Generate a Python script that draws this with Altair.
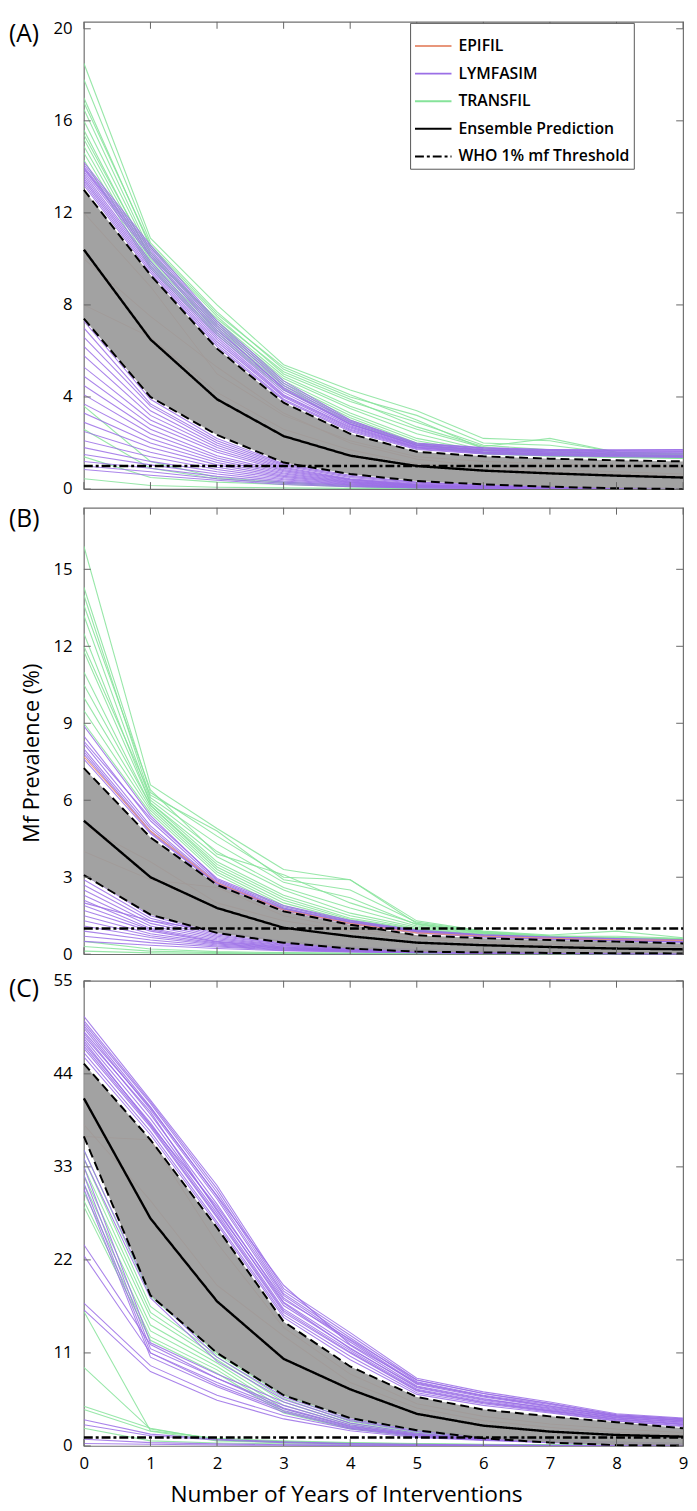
import altair as alt
import pandas as pd

FONT = "Open Sans"
X_YEARS = list(range(10))
XTICKS = list(range(10))
SERIES = ["EPIFIL", "LYMFASIM", "TRANSFIL", "Ensemble Prediction", "WHO 1% mf Threshold"]
SERIES_COLORS = ["#e8967b", "#9b6fe6", "#86e39a", "#000000", "#000000"]
SERIES_DASH = [[1, 0], [1, 0], [1, 0], [1, 0], [9, 3, 3, 3]]
THRESHOLD = 1.0
Y_TITLE = "Mf Prevalence (%)"
X_TITLE = "Number of Years of Interventions"

# ---------------- Panel A ----------------
A_YTICKS = [0, 4, 8, 12, 16, 20]
A_YMAX = 20.3
A_LOWER = [7.4, 4.0, 2.35, 1.15, 0.65, 0.35, 0.2, 0.1, 0.03, 0.0]
A_MEDIAN = [10.4, 6.5, 3.9, 2.3, 1.45, 1.0, 0.8, 0.68, 0.58, 0.5]
A_UPPER = [13.0, 9.3, 6.1, 3.75, 2.4, 1.62, 1.42, 1.32, 1.25, 1.2]
A_EPIFIL = [
    [8.0, 6.6, 4.2, 2.6, 1.7, 1.1, 0.9, 0.75, 0.65, 0.55],
    [10.0, 7.5, 5.3, 3.3, 2.0, 1.3, 1.0, 0.85, 0.75, 0.65],
    [12.0, 8.8, 5.0, 3.2, 2.1, 1.4, 1.2, 1.1, 1.0, 0.95],
]
A_LYMFASIM = [
    [14.2, 10.6, 7.3, 4.7, 3.0, 2.0, 1.8, 1.72, 1.7, 1.72],
    [14.1, 10.5, 7.2, 4.6, 2.95, 1.97, 1.78, 1.7, 1.68, 1.7],
    [14.0, 10.4, 7.1, 4.5, 2.9, 1.95, 1.75, 1.68, 1.65, 1.66],
    [13.95, 10.3, 7.0, 4.35, 2.82, 1.9, 1.72, 1.65, 1.62, 1.63],
    [13.9, 10.2, 6.9, 4.4, 2.85, 1.9, 1.7, 1.62, 1.6, 1.6],
    [13.8, 10.1, 6.8, 4.3, 2.8, 1.88, 1.68, 1.6, 1.57, 1.56],
    [13.7, 9.9, 6.7, 4.2, 2.75, 1.85, 1.65, 1.57, 1.54, 1.52],
    [13.6, 9.8, 6.6, 4.1, 2.7, 1.82, 1.62, 1.54, 1.5, 1.48],
    [13.5, 9.7, 6.5, 4.05, 2.65, 1.8, 1.6, 1.52, 1.48, 1.45],
    [13.4, 9.6, 6.4, 4.0, 2.6, 1.78, 1.58, 1.5, 1.46, 1.42],
    [13.3, 9.5, 6.3, 3.9, 2.55, 1.75, 1.55, 1.48, 1.43, 1.4],
    [13.2, 9.4, 6.2, 3.85, 2.5, 1.72, 1.52, 1.45, 1.4, 1.37],
    [7.3, 3.9, 2.2, 1.1, 0.6, 0.3, 0.18, 0.1, 0.05, 0.02],
    [7.0, 3.7, 2.1, 1.05, 0.55, 0.28, 0.15, 0.08, 0.04, 0.02],
    [6.6, 3.6, 2.0, 1.0, 0.5, 0.25, 0.14, 0.08, 0.04, 0.02],
    [6.2, 3.4, 1.9, 0.95, 0.45, 0.22, 0.12, 0.07, 0.04, 0.02],
    [5.8, 3.2, 1.8, 0.9, 0.42, 0.2, 0.1, 0.06, 0.03, 0.01],
    [5.3, 3.0, 1.7, 0.85, 0.4, 0.18, 0.1, 0.05, 0.03, 0.01],
    [4.9, 2.8, 1.6, 0.8, 0.38, 0.17, 0.09, 0.05, 0.02, 0.01],
    [4.5, 2.6, 1.45, 0.75, 0.35, 0.16, 0.08, 0.04, 0.02, 0.01],
    [4.1, 2.4, 1.35, 0.7, 0.33, 0.15, 0.08, 0.04, 0.02, 0.01],
    [3.7, 2.2, 1.25, 0.65, 0.3, 0.14, 0.07, 0.04, 0.02, 0.01],
    [3.3, 2.0, 1.15, 0.6, 0.28, 0.13, 0.07, 0.03, 0.02, 0.01],
    [2.9, 1.8, 1.05, 0.55, 0.26, 0.12, 0.06, 0.03, 0.01, 0.0],
    [2.5, 1.6, 0.95, 0.5, 0.24, 0.11, 0.06, 0.03, 0.01, 0.0],
    [2.1, 1.4, 0.85, 0.45, 0.22, 0.1, 0.05, 0.03, 0.01, 0.0],
    [1.8, 1.2, 0.75, 0.4, 0.2, 0.09, 0.05, 0.02, 0.01, 0.0],
    [1.5, 1.05, 0.65, 0.35, 0.18, 0.08, 0.04, 0.02, 0.01, 0.0],
    [1.2, 0.9, 0.55, 0.3, 0.15, 0.07, 0.04, 0.02, 0.01, 0.0],
    [1.0, 0.75, 0.45, 0.25, 0.12, 0.06, 0.03, 0.02, 0.01, 0.0],
    [0.85, 0.6, 0.38, 0.2, 0.1, 0.05, 0.03, 0.01, 0.0, 0.0],
]
A_TRANSFIL = [
    [18.5, 10.9, 8.0, 5.4, 4.3, 3.4, 2.2, 2.1, 1.6, 1.55],
    [17.8, 10.7, 7.7, 5.2, 4.0, 3.2, 2.0, 1.9, 1.55, 1.5],
    [17.0, 10.5, 7.5, 5.0, 3.8, 2.9, 1.9, 1.7, 1.5, 1.45],
    [16.8, 10.6, 7.6, 5.3, 4.1, 3.0, 1.75, 1.65, 1.5, 1.48],
    [16.5, 10.3, 7.3, 4.9, 3.6, 2.6, 1.8, 1.6, 1.48, 1.42],
    [16.0, 10.2, 7.2, 4.8, 3.5, 2.4, 1.7, 1.55, 1.45, 1.4],
    [15.6, 10.0, 7.1, 4.7, 3.3, 2.2, 1.65, 1.5, 1.42, 1.38],
    [15.4, 10.1, 7.4, 5.1, 3.9, 2.7, 1.85, 2.2, 1.6, 1.5],
    [15.2, 9.9, 7.0, 4.6, 3.2, 2.1, 1.6, 1.48, 1.4, 1.36],
    [14.9, 9.8, 6.9, 4.5, 3.1, 2.0, 1.58, 1.46, 1.4, 1.35],
    [14.6, 9.7, 6.8, 4.4, 3.0, 1.95, 1.55, 1.45, 1.38, 1.34],
    [14.3, 9.6, 6.7, 4.3, 2.9, 1.9, 1.52, 1.43, 1.37, 1.33],
    [3.6, 1.2, 0.5, 0.3, 0.15, 0.08, 0.05, 0.03, 0.02, 0.01],
    [2.6, 0.9, 0.45, 0.25, 0.12, 0.06, 0.04, 0.02, 0.01, 0.0],
    [1.4, 0.5, 0.3, 0.2, 0.1, 0.05, 0.03, 0.02, 0.01, 0.0],
    [0.45, 0.15, 0.08, 0.05, 0.03, 0.02, 0.01, 0.0, 0.0, 0.0],
]

# ---------------- Panel B ----------------
B_YTICKS = [0, 3, 6, 9, 12, 15]
B_YMAX = 17.4
B_LOWER = [3.08, 1.54, 0.83, 0.45, 0.22, 0.1, 0.07, 0.05, 0.04, 0.03]
B_MEDIAN = [5.2, 3.0, 1.8, 1.03, 0.7, 0.45, 0.35, 0.28, 0.22, 0.19]
B_UPPER = [7.25, 4.55, 2.7, 1.67, 1.15, 0.74, 0.62, 0.55, 0.49, 0.42]
B_EPIFIL = [
    [7.7, 4.8, 2.78, 1.72, 1.2, 0.83, 0.7, 0.62, 0.56, 0.54],
    [5.0, 3.6, 2.0, 1.3, 0.9, 0.6, 0.45, 0.38, 0.33, 0.3],
    [4.0, 2.9, 2.6, 1.5, 1.0, 0.7, 0.5, 0.4, 0.35, 0.3],
]
B_LYMFASIM = [
    [8.9, 5.4, 2.9, 1.85, 1.3, 0.92, 0.75, 0.66, 0.6, 0.55],
    [8.5, 5.2, 2.85, 1.8, 1.27, 0.9, 0.73, 0.64, 0.58, 0.53],
    [8.3, 5.3, 2.95, 1.9, 1.32, 0.94, 0.76, 0.67, 0.61, 0.56],
    [8.2, 5.0, 2.8, 1.77, 1.24, 0.88, 0.71, 0.62, 0.56, 0.51],
    [8.0, 4.9, 2.77, 1.75, 1.22, 0.86, 0.7, 0.61, 0.55, 0.5],
    [7.9, 4.8, 2.75, 1.73, 1.2, 0.85, 0.69, 0.6, 0.54, 0.49],
    [7.8, 4.75, 2.73, 1.72, 1.19, 0.84, 0.68, 0.59, 0.53, 0.48],
    [7.6, 4.7, 2.72, 1.7, 1.18, 0.83, 0.67, 0.58, 0.52, 0.47],
    [3.1, 1.5, 0.8, 0.43, 0.25, 0.15, 0.1, 0.07, 0.05, 0.03],
    [2.9, 1.4, 0.75, 0.4, 0.23, 0.14, 0.09, 0.06, 0.04, 0.03],
    [2.7, 1.3, 0.7, 0.38, 0.22, 0.13, 0.09, 0.06, 0.04, 0.02],
    [2.5, 1.2, 0.65, 0.35, 0.2, 0.12, 0.08, 0.05, 0.03, 0.02],
    [2.3, 1.1, 0.6, 0.33, 0.19, 0.11, 0.07, 0.05, 0.03, 0.02],
    [2.1, 1.0, 0.55, 0.3, 0.17, 0.1, 0.07, 0.04, 0.03, 0.02],
    [2.0, 1.3, 0.9, 0.5, 0.3, 0.18, 0.12, 0.08, 0.05, 0.03],
    [1.9, 0.95, 0.5, 0.28, 0.16, 0.1, 0.06, 0.04, 0.03, 0.02],
    [1.7, 0.9, 0.47, 0.26, 0.15, 0.09, 0.06, 0.04, 0.02, 0.01],
    [1.5, 0.8, 0.43, 0.24, 0.14, 0.08, 0.05, 0.03, 0.02, 0.01],
    [1.3, 0.72, 0.4, 0.22, 0.13, 0.08, 0.05, 0.03, 0.02, 0.01],
    [1.1, 0.65, 0.36, 0.2, 0.12, 0.07, 0.05, 0.03, 0.02, 0.01],
    [0.9, 0.55, 0.32, 0.18, 0.11, 0.07, 0.04, 0.03, 0.02, 0.01],
    [0.7, 0.45, 0.28, 0.16, 0.1, 0.06, 0.04, 0.03, 0.02, 0.01],
    [0.5, 0.35, 0.22, 0.14, 0.09, 0.06, 0.04, 0.02, 0.01, 0.01],
]
B_TRANSFIL = [
    [15.9, 6.6, 4.9, 3.3, 2.9, 1.3, 0.9, 0.75, 0.9, 0.64],
    [14.3, 6.3, 4.6, 3.0, 2.9, 1.2, 0.85, 0.7, 0.7, 0.62],
    [14.0, 6.1, 4.3, 2.8, 2.2, 1.15, 0.82, 0.68, 0.62, 0.58],
    [13.6, 6.4, 3.9, 3.1, 2.0, 1.18, 0.84, 0.69, 0.63, 0.59],
    [13.2, 6.0, 4.0, 2.6, 1.8, 1.1, 0.8, 0.66, 0.6, 0.56],
    [12.5, 5.9, 3.8, 2.5, 1.6, 1.05, 0.78, 0.65, 0.58, 0.55],
    [12.0, 6.2, 4.8, 2.9, 2.5, 1.25, 0.88, 0.72, 0.65, 0.6],
    [11.8, 5.9, 3.6, 2.3, 1.5, 1.0, 0.76, 0.64, 0.57, 0.54],
    [11.0, 5.8, 3.5, 2.2, 1.4, 0.98, 0.75, 0.63, 0.56, 0.53],
    [10.5, 5.8, 3.4, 2.1, 1.35, 0.95, 0.74, 0.62, 0.56, 0.52],
    [10.0, 5.7, 3.3, 2.0, 1.3, 0.93, 0.73, 0.62, 0.55, 0.52],
    [9.5, 5.6, 3.2, 1.9, 1.25, 0.9, 0.72, 0.61, 0.55, 0.51],
    [9.0, 5.5, 3.1, 1.8, 1.2, 0.88, 0.7, 0.6, 0.54, 0.5],
    [0.5, 0.2, 0.1, 0.06, 0.04, 0.03, 0.02, 0.01, 0.01, 0.0],
    [0.3, 0.12, 0.06, 0.04, 0.03, 0.02, 0.01, 0.01, 0.0, 0.0],
    [0.12, 0.05, 0.03, 0.02, 0.01, 0.01, 0.0, 0.0, 0.0, 0.0],
]

# ---------------- Panel C ----------------
C_YTICKS = [0, 11, 22, 33, 44, 55]
C_YMAX = 55
C_LOWER = [36.6, 17.8, 11.0, 6.0, 3.3, 1.86, 0.9, 0.4, 0.1, 0.05]
C_MEDIAN = [41.1, 26.9, 17.1, 10.3, 6.7, 3.8, 2.4, 1.7, 1.3, 1.1]
C_UPPER = [45.2, 36.2, 25.8, 14.7, 9.4, 5.8, 4.3, 3.5, 2.8, 2.1]
C_EPIFIL = [
    [36.6, 36.2, 24.0, 14.0, 8.5, 5.0, 3.5, 2.6, 2.0, 1.6],
    [38.0, 29.0, 19.0, 13.0, 7.5, 4.5, 3.0, 2.2, 1.6, 1.3],
]
C_LYMFASIM = [
    [50.8, 40.9, 30.8, 18.6, 13.4, 8.0, 6.4, 5.2, 3.8, 3.3],
    [50.3, 40.7, 30.4, 18.3, 13.1, 7.8, 6.2, 5.05, 3.7, 3.2],
    [50.0, 40.5, 30.0, 18.0, 12.8, 7.6, 6.0, 4.9, 3.6, 3.1],
    [49.7, 40.1, 29.5, 17.8, 12.5, 7.4, 5.9, 4.75, 3.55, 3.05],
    [49.4, 39.8, 29.2, 17.5, 12.3, 7.3, 5.8, 4.6, 3.5, 2.95],
    [49.0, 40.0, 29.6, 19.0, 12.0, 7.5, 5.9, 4.7, 3.55, 3.0],
    [48.8, 39.2, 28.6, 17.0, 11.9, 7.1, 5.6, 4.4, 3.4, 2.8],
    [48.5, 39.5, 27.8, 16.9, 11.5, 7.0, 5.5, 4.5, 3.35, 2.85],
    [48.2, 38.7, 28.0, 16.6, 11.6, 6.9, 5.4, 4.3, 3.3, 2.7],
    [47.9, 38.0, 28.3, 17.3, 12.6, 7.8, 6.2, 5.0, 3.7, 3.2],
    [47.6, 38.2, 27.5, 16.2, 11.3, 6.7, 5.25, 4.2, 3.2, 2.6],
    [47.3, 37.9, 27.2, 16.0, 11.1, 6.6, 5.15, 4.15, 3.15, 2.55],
    [47.0, 37.7, 27.0, 15.8, 11.0, 6.5, 5.1, 4.1, 3.1, 2.5],
    [46.5, 37.2, 26.5, 15.5, 10.6, 6.3, 5.0, 4.0, 3.0, 2.4],
    [46.0, 36.8, 26.2, 15.2, 10.2, 6.1, 4.8, 3.9, 2.95, 2.3],
    [35.0, 18.0, 10.5, 5.8, 3.2, 1.8, 1.1, 0.7, 0.45, 0.3],
    [34.0, 17.5, 10.0, 5.5, 3.0, 1.7, 1.0, 0.65, 0.4, 0.3],
    [33.0, 12.2, 8.5, 5.2, 2.7, 1.5, 0.9, 0.6, 0.4, 0.25],
    [32.0, 11.5, 8.0, 4.8, 2.5, 1.4, 0.85, 0.55, 0.35, 0.25],
    [31.0, 11.0, 7.5, 4.4, 2.3, 1.3, 0.8, 0.5, 0.35, 0.2],
    [30.4, 10.5, 7.0, 4.0, 2.1, 1.2, 0.75, 0.5, 0.3, 0.2],
    [23.8, 12.0, 8.0, 4.5, 2.4, 1.3, 0.8, 0.5, 0.3, 0.2],
    [22.5, 11.0, 7.2, 4.2, 2.2, 1.2, 0.75, 0.45, 0.3, 0.2],
    [16.9, 9.5, 6.0, 3.6, 2.0, 1.1, 0.7, 0.45, 0.3, 0.2],
    [16.1, 8.8, 5.4, 3.2, 1.8, 1.0, 0.65, 0.4, 0.25, 0.15],
    [3.1, 1.4, 0.8, 0.5, 0.3, 0.2, 0.12, 0.08, 0.05, 0.03],
    [2.5, 1.2, 0.7, 0.4, 0.25, 0.15, 0.1, 0.06, 0.04, 0.02],
    [0.8, 0.4, 0.25, 0.15, 0.1, 0.06, 0.04, 0.03, 0.02, 0.01],
    [0.3, 0.2, 0.12, 0.08, 0.05, 0.03, 0.02, 0.01, 0.01, 0.0],
]
C_TRANSFIL = [
    [35.0, 17.7, 11.0, 6.2, 3.4, 1.9, 1.2, 0.8, 0.5, 0.35],
    [34.0, 16.5, 10.8, 6.0, 3.1, 1.7, 1.1, 0.7, 0.45, 0.3],
    [33.0, 15.8, 10.5, 5.6, 2.9, 1.6, 1.0, 0.65, 0.4, 0.3],
    [32.0, 15.2, 10.2, 5.2, 2.7, 1.5, 0.95, 0.6, 0.4, 0.25],
    [31.0, 14.3, 9.8, 4.8, 2.5, 1.4, 0.9, 0.55, 0.35, 0.25],
    [30.0, 13.6, 9.4, 4.4, 2.3, 1.3, 0.85, 0.5, 0.35, 0.2],
    [29.0, 12.9, 9.0, 4.1, 2.1, 1.2, 0.8, 0.5, 0.3, 0.2],
    [28.3, 12.5, 8.6, 3.9, 2.0, 1.1, 0.75, 0.45, 0.3, 0.2],
    [15.9, 1.8, 0.9, 0.6, 0.4, 0.3, 0.2, 0.15, 0.1, 0.05],
    [9.3, 2.0, 0.8, 0.5, 0.35, 0.25, 0.18, 0.12, 0.08, 0.05],
    [4.7, 2.1, 0.7, 0.45, 0.3, 0.2, 0.15, 0.1, 0.06, 0.04],
    [4.3, 1.75, 0.6, 0.4, 0.28, 0.2, 0.14, 0.1, 0.06, 0.04],
    [2.1, 0.6, 0.35, 0.25, 0.18, 0.12, 0.08, 0.05, 0.03, 0.02],
]


def lines_frame(groups, series):
    rows = []
    for i, ys in enumerate(groups):
        for x, y in zip(X_YEARS, ys):
            rows.append({"x": x, "y": y, "series": series, "id": f"{series}-{i}"})
    return pd.DataFrame(rows)


def make_legend():
    return alt.Legend(
        title=None, orient="none", legendX=331, legendY=1, direction="vertical",
        symbolType="stroke", symbolSize=1369, symbolOpacity=1, symbolStrokeWidth=2,
        labelFont=FONT, labelFontSize=16, labelFontWeight=600, labelColor="black",
        labelLimit=300, labelOffset=6, strokeColor="#555555", fillColor="white",
        padding=4, rowPadding=-19.5, cornerRadius=0,
    )


def panel(label, label_y, epi, lym, tra, lower, median, upper, yticks, ymax, H,
          with_legend, with_xaxis, ytitle):
    W = 608
    xs = alt.Scale(domain=[0, 9], nice=False, zero=False)
    ys = alt.Scale(domain=[0, ymax], nice=False, zero=False)
    if with_xaxis:
        xaxis = alt.Axis(values=XTICKS, ticks=False, domain=False, grid=False,
                         labelFont=FONT, labelFontSize=17, labelColor="black",
                         labelPadding=10, labelFlush=False,
                         titleFont=FONT, titleFontSize=23, titleFontWeight="normal",
                         titleColor="black", titleX=266, titleY=49,
                         titleAlign="center", titleBaseline="middle")
        xtitle = X_TITLE
    else:
        xaxis = None
        xtitle = None
    yaxis = alt.Axis(values=yticks, ticks=False, domain=False, grid=False, labelFont=FONT,
                     labelFontSize=17, labelColor="black", labelPadding=12)

    def X(f):
        return alt.X(f, type="quantitative", scale=xs, axis=xaxis, title=xtitle)

    def Y(f):
        return alt.Y(f, type="quantitative", scale=ys, axis=yaxis, title=None)

    leg = make_legend() if with_legend else None
    cscale = alt.Scale(domain=SERIES, range=SERIES_COLORS)
    dscale = alt.Scale(domain=SERIES, range=SERIES_DASH)

    def color():
        return alt.Color("series:N", scale=cscale, legend=leg)

    def dash():
        return alt.StrokeDash("series:N", scale=dscale, legend=leg)

    def model_layer(groups, series, opacity):
        return alt.Chart(lines_frame(groups, series)).mark_line(
            strokeWidth=1.1, opacity=opacity, clip=True
        ).encode(x=X("x"), y=Y("y"), detail="id:N", color=color())

    band_df = pd.DataFrame({"x": X_YEARS, "lo": lower, "hi": upper})
    band = alt.Chart(band_df).mark_area(color="#9b9b9b", opacity=0.93).encode(
        x=X("x"), y=Y("lo"), y2=alt.Y2("hi"))
    up_line = alt.Chart(band_df).mark_line(color="black", strokeDash=[9, 5], strokeWidth=2).encode(
        x=X("x"), y=Y("hi"))
    lo_line = alt.Chart(band_df).mark_line(color="black", strokeDash=[9, 5], strokeWidth=2).encode(
        x=X("x"), y=Y("lo"))
    med_df = pd.DataFrame({"x": X_YEARS, "y": median, "series": "Ensemble Prediction"})
    med_line = alt.Chart(med_df).mark_line(strokeWidth=2.4).encode(
        x=X("x"), y=Y("y"), color=color(), strokeDash=dash())
    thr_df = pd.DataFrame({"x": [X_YEARS[0], X_YEARS[-1]], "y": [THRESHOLD, THRESHOLD],
                           "series": "WHO 1% mf Threshold"})
    thr_line = alt.Chart(thr_df).mark_line(strokeWidth=2.4).encode(
        x=X("x"), y=Y("y"), color=color(), strokeDash=dash())

    yt = pd.DataFrame({"v": yticks})
    xt = pd.DataFrame({"v": XTICKS})
    tick_style = dict(color="#666666", strokeWidth=1)
    t_left = alt.Chart(yt).mark_rule(**tick_style).encode(y=Y("v"), x=alt.value(0), x2=alt.value(7))
    t_right = alt.Chart(yt).mark_rule(**tick_style).encode(y=Y("v"), x=alt.value(W - 7), x2=alt.value(W))
    t_top = alt.Chart(xt).mark_rule(**tick_style).encode(x=X("v"), y=alt.value(0), y2=alt.value(7))
    t_bot = alt.Chart(xt).mark_rule(**tick_style).encode(x=X("v"), y=alt.value(H - 7), y2=alt.value(H))

    lab = alt.Chart(pd.DataFrame({"label": [label]})).mark_text(
        align="left", baseline="middle", font=FONT, fontSize=25, color="black"
    ).encode(x=alt.value(-76), y=alt.value(label_y), text="label:N")

    layers = []
    if tra:
        layers.append(model_layer(tra, "TRANSFIL", 0.85))
    if lym:
        layers.append(model_layer(lym, "LYMFASIM", 0.85))
    if epi:
        layers.append(model_layer(epi, "EPIFIL", 0.9))
    layers += [band, up_line, lo_line, med_line, thr_line, t_left, t_right, t_top, t_bot, lab]
    if ytitle:
        ttl = alt.Chart(pd.DataFrame({"t": [ytitle]})).mark_text(
            align="center", baseline="middle", angle=270, font=FONT, fontSize=22, color="black"
        ).encode(x=alt.value(-53), y=alt.value(249), text="t:N")
        layers.append(ttl)
    return alt.layer(*layers).properties(width=W, height=H)


pa = panel("(A)", 12.5, A_EPIFIL, A_LYMFASIM, A_TRANSFIL, A_LOWER, A_MEDIAN, A_UPPER,
           A_YTICKS, A_YMAX, 474, True, False, None)
pb = panel("(B)", 11.5, B_EPIFIL, B_LYMFASIM, B_TRANSFIL, B_LOWER, B_MEDIAN, B_UPPER,
           B_YTICKS, B_YMAX, 453, False, False, Y_TITLE)
pc = panel("(C)", 8.5, C_EPIFIL, C_LYMFASIM, C_TRANSFIL, C_LOWER, C_MEDIAN, C_UPPER,
           C_YTICKS, C_YMAX, 472, False, True, None)

chart = alt.vconcat(pa, pb, pc, spacing=8).resolve_scale(
    color="independent", strokeDash="independent"
).properties(
    padding={"left": 0, "top": 0, "right": 0, "bottom": 0}, background="white"
).configure_view(stroke="#707070", strokeWidth=1.2)

chart.save("out.html", embed_options={"renderer": "svg", "actions": False})
